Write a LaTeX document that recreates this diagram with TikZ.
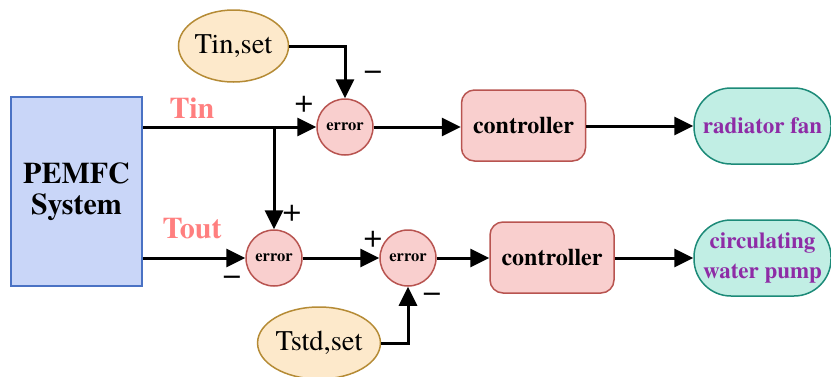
\documentclass[tikz,border=0pt]{standalone}
\usepackage{fontspec}
\setmainfont{TeX Gyre Termes}
\usetikzlibrary{arrows.meta,shapes.geometric}
\definecolor{sysfill}{HTML}{C9D6F8}
\definecolor{sysdraw}{HTML}{4A72C4}
\definecolor{setfill}{HTML}{FDE9CB}
\definecolor{setdraw}{HTML}{B58B35}
\definecolor{redfill}{HTML}{F9CFCE}
\definecolor{reddraw}{HTML}{B85450}
\definecolor{actfill}{HTML}{C1EEE4}
\definecolor{actdraw}{HTML}{1C8A78}
\definecolor{sigtext}{HTML}{FF7F7F}
\definecolor{acttext}{HTML}{8E2CA6}
\tikzset{
  fs/.style={font=\rmfamily\fontsize{#1}{#1}\selectfont},
  sysbox/.style={draw=sysdraw, fill=sysfill, line width=1.5pt, minimum width=131pt, minimum height=189pt, inner sep=0pt, align=center, font=\rmfamily\fontsize{30}{31}\selectfont\bfseries},
  setpoint/.style={ellipse, draw=setdraw, fill=setfill, line width=1.5pt, minimum width=107pt, minimum height=72pt, inner sep=0pt, fs=28.5},
  sumnode/.style={circle, draw=reddraw, fill=redfill, line width=1.5pt, minimum size=56pt, inner sep=0pt, font=\rmfamily\fontsize{16.5}{16.5}\selectfont\bfseries},
  ctrlbox/.style={rounded corners=13pt, draw=reddraw, fill=redfill, line width=1.5pt, minimum width=124pt, minimum height=71pt, inner sep=0pt, font=\rmfamily\fontsize{24}{24}\selectfont\bfseries},
  actuator/.style={rounded corners=37pt, draw=actdraw, fill=actfill, line width=1.5pt, minimum width=137pt, minimum height=76pt, inner sep=0pt, align=center, text=acttext, font=\rmfamily\fontsize{23}{30}\selectfont\bfseries},
  sig/.style={line width=3pt, -{Triangle[length=19pt,width=18pt]}},
  siglabel/.style={text=sigtext, font=\rmfamily\fontsize{30}{30}\selectfont\bfseries},
  signmark/.style={fs=33, inner sep=0pt},
}
\begin{document}
\begin{tikzpicture}[x=1pt,y=-1pt]
\useasboundingbox (0,0) rectangle (831,376);
% blocks
\node[sysbox] (pemfc) at (76.5,191.5) {PEMFC\\System};
\node[setpoint] (tinset) at (233.5,46) {Tin,set};
\node[sumnode] (err1) at (345,127) {error};
\node[ctrlbox] (ctrl1) at (523.5,125.5) {controller};
\node[actuator] (fan) at (762.5,126) {radiator fan};
\node[sumnode] (err2) at (274,258) {error};
\node[sumnode] (err3) at (408,258) {error};
\node[ctrlbox] (ctrl2) at (552,257.5) {controller};
\node[actuator] (pump) at (762.5,258) {circulating\\water pump};
\node[setpoint] (tstdset) at (319,343) {Tstd,set};
% branch point on the Tin line
\coordinate (br) at (err2 |- err1);
% signal lines
\draw[sig] (pemfc.east |- err1) -- (err1.west);
\draw[sig] (tinset.east) -| (err1.north);
\draw[sig] (err1.east) -- (ctrl1.west |- err1);
\draw[sig] (ctrl1.east |- fan) -- (fan.west);
\draw[sig] (br) -- (err2.north);
\draw[sig] (pemfc.east |- err2) -- (err2.west);
\draw[sig] (err2.east) -- (err3.west);
\draw[sig] (tstdset.east) -| (err3.south);
\draw[sig] (err3.east) -- (ctrl2.west |- err3);
\draw[sig] (ctrl2.east |- pump) -- (pump.west);
% signal names
\node[siglabel] (tinlbl) at (192,108) {Tin};
\node[siglabel] (toutlbl) at (192,229) {Tout};
% signs at the summing junctions
\node[signmark] (p1) at (304,104) {+};
\node[signmark] (m1) at (373,76) {−};
\node[signmark] (p2) at (292,213) {+};
\node[signmark] (m2) at (232,281) {−};
\node[signmark] (p3) at (373,239) {+};
\node[signmark] (m3) at (432,298) {−};
\end{tikzpicture}
\end{document}
